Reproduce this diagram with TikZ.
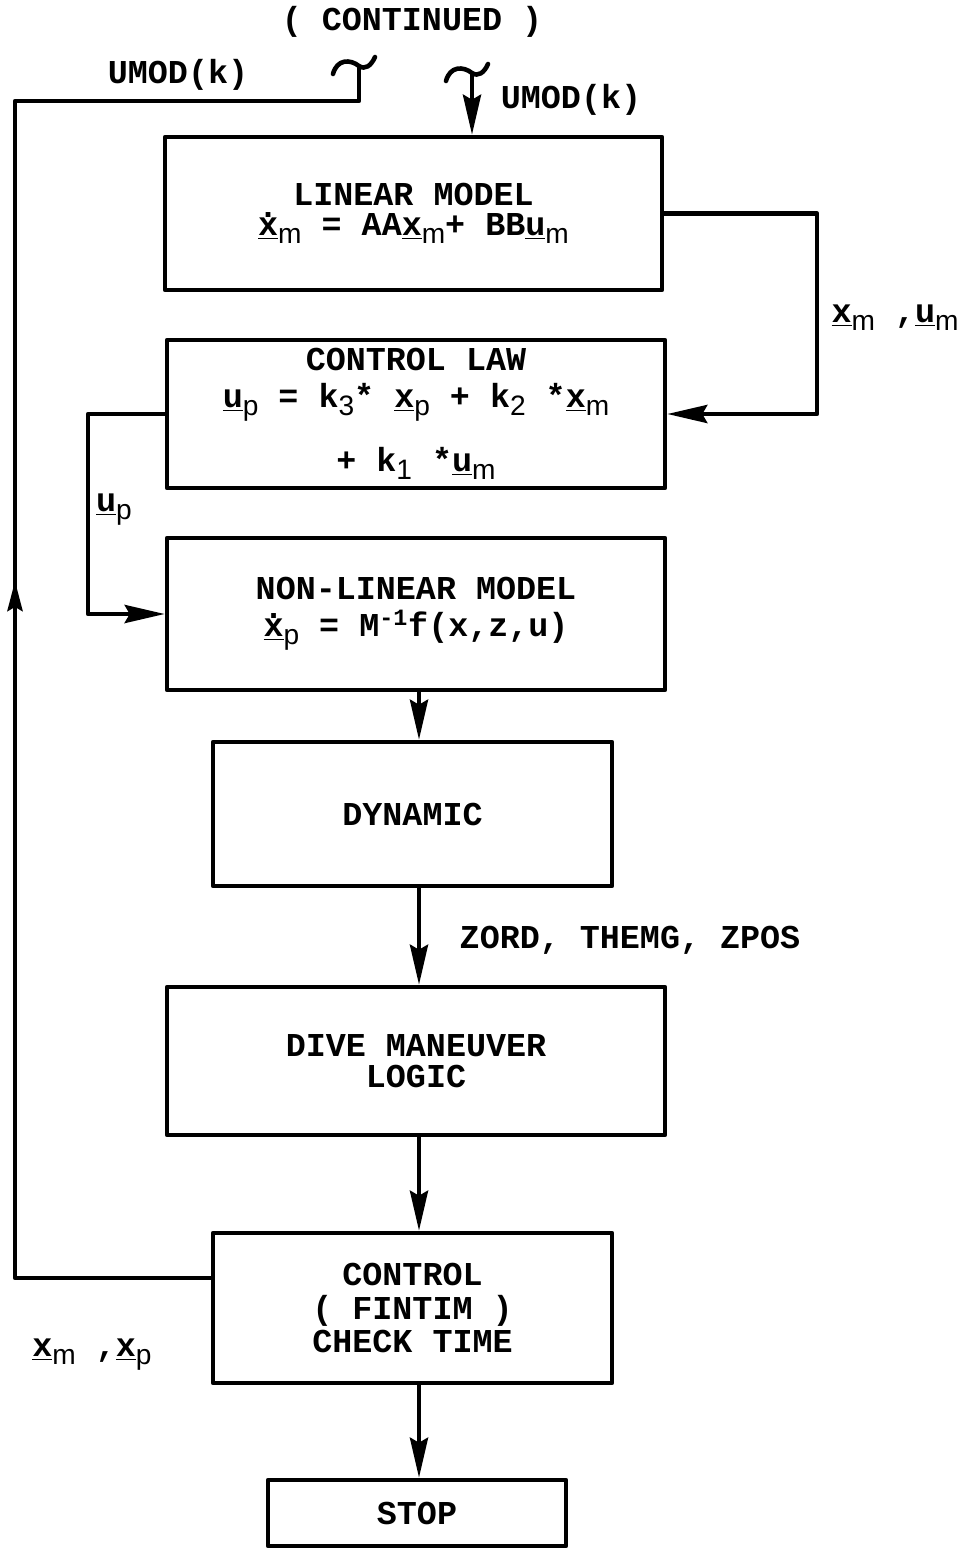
\documentclass[tikz,border=0pt]{standalone}
\usepackage{fontspec}
\setmainfont{Liberation Mono}
\newfontfamily\subfont{Liberation Sans}
\usetikzlibrary{arrows.meta, decorations.markings}
\newcommand{\uv}[1]{\underline{#1}}
\newcommand{\dv}[1]{\underline{\rlap{\raisebox{0.55em}{.}}#1}}
\newcommand{\sub}[1]{\raisebox{-0.45ex}{\subfont\mdseries\fontsize{16}{16}\selectfont #1}}
\tikzset{
  every picture/.style={line width=2.6pt, line join=round},
  box/.style={draw, line width=2.6pt, inner sep=0pt, align=center, font=\bfseries\fontsize{19}{19}\selectfont},
  lbl/.style={font=\bfseries\fontsize{19}{19}\selectfont, inner sep=0pt},
  arrow/.style={-{Stealth[length=0.8cm, width=0.36cm, inset=0.1cm]}},
  midarrow/.style={postaction={decorate}, decoration={markings, mark=at position #1 with {\arrow{Stealth[length=0.6cm, width=0.3cm, inset=0.08cm]}}}},
  offpage/.pic={\draw[line cap=round] (-26,8) .. controls (-22,-7) and (-9,-7) .. (0,0) .. controls (6,4) and (12,0) .. (16,-9);},
}

\begin{document}
\begin{tikzpicture}[x=0.02cm, y=-0.02cm]
  \useasboundingbox (0,0) rectangle (961,1548);
  \node[lbl] (cont) at (412,22) {( CONTINUED )};
  % off-page connectors
  \coordinate (tl) at (359,66);
  \coordinate (tr) at (472,73);
  \pic at (tl) {offpage};
  \pic at (tr) {offpage};
  \node[lbl] (umodl) at (178,75) {UMOD(k)};
  \node[lbl] (umodr) at (571,100) {UMOD(k)};
  % blocks
  \node[box, minimum width=9.94cm, minimum height=3.06cm] (lin) at (413.5,213.5)
    {LINEAR MODEL\\[-2pt] \dv{x}\sub{m} = AA\uv{x}\sub{m}+ BB\uv{u}\sub{m}};
  \node[box, minimum width=9.96cm, minimum height=2.96cm] (law) at (416,414)
    {CONTROL LAW\\[2pt] \uv{u}\sub{p} = k\sub{3}* \uv{x}\sub{p} + k\sub{2} *\uv{x}\sub{m}\\[14pt] + k\sub{1} *\uv{u}\sub{m}};
  \node[box, minimum width=9.96cm, minimum height=3.04cm] (nonlin) at (416,614)
    {NON-LINEAR MODEL\\[2pt] \dv{x}\sub{p} = M\textsuperscript{-1}f(x,z,u)\hspace{1.2em}};
  \node[box, minimum width=7.98cm, minimum height=2.88cm] (dyn) at (412.5,814) {DYNAMIC};
  \node[box, minimum width=9.96cm, minimum height=2.96cm] (dive) at (416,1061)
    {DIVE MANEUVER\\[-1pt] LOGIC};
  \node[box, minimum width=7.98cm, minimum height=3.0cm] (ctrl) at (412.5,1308)
    {CONTROL\\ ( FINTIM )\\ CHECK TIME};
  \node[box, minimum width=5.96cm, minimum height=1.32cm] (stop) at (417,1513) {STOP};
  % labels
  \node[lbl] (lblm) at (895,318) {\uv{x}\sub{m} ,\uv{u}\sub{m}};
  \node[lbl] (lblp) at (114,510) {\uv{u}\sub{p}};
  \node[lbl] (lblz) at (630,940) {ZORD, THEMG, ZPOS};
  \node[lbl] (lblx) at (92,1355) {\uv{x}\sub{m} ,\uv{x}\sub{p}};
  % connectors
  \coordinate (flow) at (419,0);
  \coordinate (rc) at (817,0);
  \coordinate (lc) at (88,0);
  \coordinate (fb) at (15,1278);
  \coordinate (fbtop) at (15,101);
  \draw[arrow] (tr) -- (tr |- lin.north);
  \draw[arrow] (lin.east) -- (lin.east -| rc) |- (law.east);
  \draw[arrow] (law.west) -- (law.west -| lc) |- (nonlin.west);
  \draw[arrow] (nonlin.south -| flow) -- (dyn.north -| flow);
  \draw[arrow] (dyn.south -| flow) -- (dive.north -| flow);
  \draw[arrow] (dive.south -| flow) -- (ctrl.north -| flow);
  \draw[arrow] (ctrl.south -| flow) -- (stop.north -| flow);
  \draw[midarrow=17.86cm] (ctrl.west |- fb) -- (fb) -- (fbtop) -| (tl);
\end{tikzpicture}
\end{document}
